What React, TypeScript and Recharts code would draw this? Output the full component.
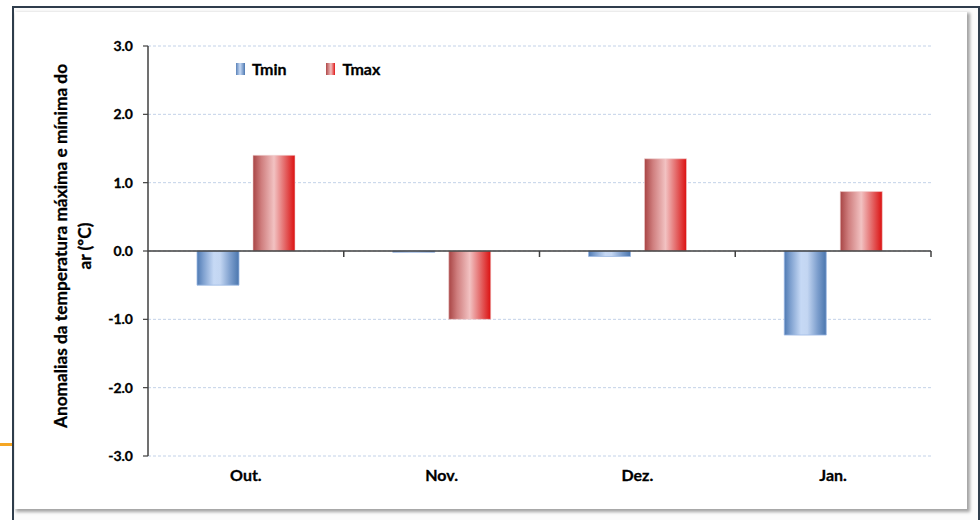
import React from "react";
import {
  BarChart,
  Bar,
  XAxis,
  YAxis,
  CartesianGrid,
  ReferenceLine,
  Legend,
} from "recharts";

const categories = ["Out.", "Nov.", "Dez.", "Jan."];
const tminValues = [-0.5, -0.02, -0.08, -1.23];
const tmaxValues = [1.4, -1.0, 1.35, 0.87];
const yTicks = [-3, -2, -1, 0, 1, 2, 3];
const seriesNames = ["Tmin", "Tmax"];
const yLabelLines = ["Anomalias da temperatura máxima e mínima do", "ar (ºC)"];

const data = categories.map((c, i) => ({
  name: c,
  Tmin: tminValues[i],
  Tmax: tmaxValues[i],
}));

const FONT = "Lato, 'Open Sans', sans-serif";

const ZeroLine = (props: any) => {
  const { x1, y1, x2, y2 } = props;
  const n = categories.length;
  const ticks = [];
  for (let i = 1; i <= n; i++) {
    const x = x1 + (i * (x2 - x1)) / n;
    ticks.push(<line key={i} x1={x} y1={y1} x2={x} y2={y1 + 6} stroke="#404040" strokeWidth={1.5} />);
  }
  return (
    <g>
      <line x1={x1} y1={y1} x2={x2} y2={y2} stroke="#404040" strokeWidth={1.6} />
      {ticks}
    </g>
  );
};

const legendBg: Record<string, string> = {
  Tmin: "linear-gradient(to right, #5a82b8, #c6d9f5 45%, #4d78b0)",
  Tmax: "linear-gradient(to right, #b04848, #f2c0c0 55%, #e01818)",
};

const LegendContent = () => (
  <div style={{ display: "flex", alignItems: "center", fontFamily: FONT, fontWeight: 700, fontSize: 16, color: "#000", WebkitTextStroke: "0.3px #000" }}>
    {seriesNames.map((s, i) => (
      <div key={s} style={{ display: "flex", alignItems: "center", marginRight: i === 0 ? 40 : 0 }}>
        <span style={{ display: "inline-block", width: 9, height: 12, background: legendBg[s], marginRight: 7 }} />
        <span>{s}</span>
      </div>
    ))}
  </div>
);

const YLabel = (props: any) => {
  const vb = props.viewBox || { x: 0, y: 0, width: 0, height: 0 };
  const cy = vb.y + vb.height / 2 - 5;
  return (
    <g fontFamily={FONT} fontWeight={700} fontSize={17.3} fill="#000" stroke="#000" strokeWidth={0.3}>
      <text x={67} y={cy} textAnchor="middle" transform={`rotate(-90, 67, ${cy})`}>
        {yLabelLines[0]}
      </text>
      <text x={91} y={cy} textAnchor="middle" transform={`rotate(-90, 91, ${cy})`}>
        {yLabelLines[1]}
      </text>
    </g>
  );
};

export default function App() {
  return (
    <div style={{ position: "absolute", left: 0, top: 0, width: 980, height: 520, background: "#fff", overflow: "hidden" }}>
      <div style={{ position: "absolute", left: 0, top: 443, width: 12, height: 3, background: "#f5a623" }} />
      <div
        style={{
          position: "absolute",
          left: 12,
          top: 6,
          width: 964,
          height: 530,
          borderLeft: "2px solid #2f3d4c",
          borderTop: "2px solid #2f3d4c",
          borderRight: "2px solid #2f3d4c",
          background: "#fbfbfb",
        }}
      />
      <div
        style={{
          position: "absolute",
          left: 15,
          top: 12,
          width: 952,
          height: 497,
          background: "#fff",
          boxShadow: "2px 2px 3px 1px rgba(0,0,0,0.35)",
        }}
      />
      <div style={{ position: "absolute", left: 0, top: 0 }}>
        <BarChart
          width={980}
          height={520}
          data={data}
          margin={{ top: 46, right: 49, bottom: 34, left: 88 }}
          barSize={42}
          barGap={14}
        >
          <defs>
            <linearGradient id="gTmin" x1="0" y1="0" x2="1" y2="0">
              <stop offset="0%" stopColor="#4f7ab3" />
              <stop offset="15%" stopColor="#7ea0cf" />
              <stop offset="40%" stopColor="#c6d9f5" />
              <stop offset="55%" stopColor="#c3d6f2" />
              <stop offset="80%" stopColor="#7b9dcc" />
              <stop offset="100%" stopColor="#4a76ae" />
            </linearGradient>
            <linearGradient id="gTmax" x1="0" y1="0" x2="1" y2="0">
              <stop offset="0%" stopColor="#a84444" />
              <stop offset="20%" stopColor="#cf7e7e" />
              <stop offset="50%" stopColor="#f2c2c2" />
              <stop offset="75%" stopColor="#e46a6a" />
              <stop offset="100%" stopColor="#dc1010" />
            </linearGradient>
          </defs>
          <CartesianGrid horizontal vertical={false} stroke="#c3d2e8" strokeDasharray="3 2" />
          <XAxis
            dataKey="name"
            axisLine={false}
            tickLine={false}
            tickSize={0}
            tickMargin={14}
            height={30}
            interval={0}
            tick={{ fontFamily: FONT, fontWeight: 700, fontSize: 16, fill: "#000", stroke: "#000", strokeWidth: 0.3 }}
          />
          <YAxis
            domain={[-3, 3]}
            ticks={yTicks}
            interval={0}
            width={60}
            allowDataOverflow
            tickFormatter={(v: number) => v.toFixed(1)}
            axisLine={{ stroke: "#404040", strokeWidth: 1.5 }}
            tickLine={{ stroke: "#404040", strokeWidth: 1.2 }}
            tickSize={5}
            tickMargin={10}
            tick={{ fontFamily: FONT, fontWeight: 700, fontSize: 14, fill: "#000", stroke: "#000", strokeWidth: 0.3 }}
            label={{ content: YLabel } as any}
          />
          <Legend
            layout="horizontal"
            verticalAlign="middle"
            align="center"
            content={<LegendContent />}
            wrapperStyle={{ position: "absolute", top: 59, left: 236, width: "auto" }}
          />
          <Bar dataKey="Tmin" name="Tmin" fill="url(#gTmin)" stroke="#9cb9e3" strokeWidth={0.8} isAnimationActive={false} />
          <Bar dataKey="Tmax" name="Tmax" fill="url(#gTmax)" stroke="#f0d0d0" strokeWidth={0.6} isAnimationActive={false} />
          <ReferenceLine y={0} shape={ZeroLine} ifOverflow="extendDomain" />
        </BarChart>
      </div>
    </div>
  );
}
